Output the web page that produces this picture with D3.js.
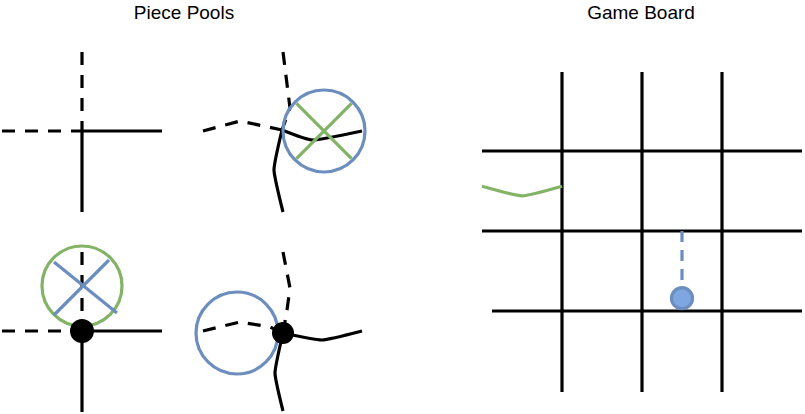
<!DOCTYPE html>
<html>
<head>
<meta charset="utf-8">
<script src="https://cdn.jsdelivr.net/npm/d3@7"></script>
<style>
  body { margin: 0; background: #fff; }
  text { font-family: "Liberation Sans", Arial, Helvetica, sans-serif; }
</style>
</head>
<body>
<svg id="chart" width="805" height="414"></svg>
<script>
// panel titles
var titles = [
  {text: "Piece Pools", x: 184},
  {text: "Game Board", x: 641}
];

// pieces in the pool: centre, arms (relative points), rings, crosses, dot
var pieces = [
  { cx: 82, cy: 131,
    dashed: [[[0,0],[0,-79]], [[0,0],[-80,0]]],
    solid:  [[[0,0],[80,0]], [[0,0],[0,81]]],
    rings: [], crosses: [], dot: 0 },
  { cx: 282, cy: 130,
    dashed: [[[0,0],[8,-22],[1,-78]], [[0,0],[-42,-9],[-79,1]]],
    solid:  [[[0,0],[31,10],[80,1]], [[0,0],[-8,40],[1,82]]],
    rings:   [{x: 42, y: 1, r: 41, c: "blue"}],
    crosses: [{x: 42, y: 1, r: 39, c: "green"}],
    dot: 0 },
  { cx: 82, cy: 331,
    dashed: [[[0,0],[0,-79]], [[0,0],[-80,0]]],
    solid:  [[[0,0],[80,0]], [[0,0],[0,81]]],
    rings:   [{x: 0, y: -45, r: 40, c: "green"}],
    crosses: [],
    lines:   [[[-28,-69],[35,-18]], [[-28,-16],[27,-71]]],
    dot: 12 },
  { cx: 283, cy: 333,
    dashed: [[[0,0],[4,-23],[7,-45],[0,-81]], [[0,0],[-13,-6],[-43,-11],[-80,-2]]],
    solid:  [[[0,0],[39,7],[79,-2]], [[0,0],[-8,40],[0,78]]],
    rings:   [{x: -46, y: 0, r: 41, c: "blue"}],
    crosses: [],
    dot: 11 }
];

// game board grid (in cell units)
var boardCols = [0, 1, 2];
var boardRows = [0, 1, 2];
var rowStart  = [-1, -1, -0.875];
var greenEdge = [[-1, 0.44], [-0.5, 0.56], [0, 0.44]];
var bluePath  = [[1.5, 1], [1.5, 1.84]];

var colors = { blue: "#6c8ebf", green: "#82b366", fill: "#7ea6e0", ink: "#000" };
var sw = 3.2;
var bend = d3.curveCardinal.tension(0.55);

var svg = d3.select("#chart");

svg.selectAll("text.title").data(titles).enter()
  .append("text")
    .attr("class", "title")
    .attr("x", function(d) { return d.x; })
    .attr("y", 19)
    .attr("text-anchor", "middle")
    .style("font-size", "19px")
    .text(function(d) { return d.text; });

// pool pieces
pieces.forEach(function(p) {
  var x = d3.scaleLinear().domain([0, 1]).range([p.cx, p.cx + 1]);
  var y = d3.scaleLinear().domain([0, 1]).range([p.cy, p.cy + 1]);
  var pl = d3.line().x(function(d) { return x(d[0]); }).y(function(d) { return y(d[1]); });
  var pc = d3.line().x(function(d) { return x(d[0]); }).y(function(d) { return y(d[1]); }).curve(bend);
  var g = svg.append("g")
    .attr("stroke-linejoin", "round");

  // dashes start from the outer end of an arm
  g.selectAll("path.dash").data(p.dashed).enter().append("path")
    .attr("d", function(d) { return pl(d.slice().reverse()); })
    .attr("fill", "none").attr("stroke", colors.ink)
    .attr("stroke-width", sw).attr("stroke-dasharray", "13,10");
  g.selectAll("path.solid").data(p.solid).enter().append("path")
    .attr("d", pc).attr("fill", "none").attr("stroke", colors.ink)
    .attr("stroke-width", sw);

  g.selectAll("circle.ring").data(p.rings).enter().append("circle")
    .attr("cx", function(d) { return x(d.x); })
    .attr("cy", function(d) { return y(d.y); })
    .attr("r", function(d) { return d.r; })
    .attr("fill", "none").attr("stroke", function(d) { return colors[d.c]; })
    .attr("stroke-width", sw);

  p.crosses.forEach(function(c) {
    var k = c.r * Math.SQRT1_2;
    var segs = [[[c.x - k, c.y - k], [c.x + k, c.y + k]], [[c.x - k, c.y + k], [c.x + k, c.y - k]]];
    g.selectAll(null).data(segs).enter().append("path")
      .attr("d", pl).attr("fill", "none").attr("stroke", colors[c.c])
      .attr("stroke-width", sw);
  });

  if (p.lines) {
    g.selectAll(null).data(p.lines).enter().append("path")
      .attr("d", pl).attr("fill", "none").attr("stroke", colors.blue)
      .attr("stroke-width", sw);
  }

  if (p.dot) {
    g.append("circle").attr("cx", x(0)).attr("cy", y(0)).attr("r", p.dot)
      .attr("fill", colors.ink);
  }
});

// game board
var bx = d3.scaleLinear().domain([0, 1]).range([562, 642]);
var by = d3.scaleLinear().domain([0, 1]).range([151, 231]);
var board = svg.append("g").attr("stroke-linejoin", "round");

board.selectAll("line.col").data(boardCols).enter().append("line")
  .attr("x1", function(d) { return bx(d); }).attr("x2", function(d) { return bx(d); })
  .attr("y1", by(-1) + 1).attr("y2", by(3) + 1)
  .attr("stroke", colors.ink).attr("stroke-width", sw);

board.selectAll("line.row").data(boardRows).enter().append("line")
  .attr("x1", function(d, i) { return bx(rowStart[i]); }).attr("x2", bx(3))
  .attr("y1", function(d) { return by(d); }).attr("y2", function(d) { return by(d); })
  .attr("stroke", colors.ink).attr("stroke-width", sw);

var bl = d3.line().x(function(d) { return bx(d[0]); }).y(function(d) { return by(d[1]); });

board.append("path").datum(greenEdge)
  .attr("d", bl.curve(bend))
  .attr("fill", "none").attr("stroke", colors.green).attr("stroke-width", sw);

board.append("path").datum(bluePath)
  .attr("d", bl.curve(d3.curveLinear))
  .attr("fill", "none").attr("stroke", colors.blue).attr("stroke-width", sw)
  .attr("stroke-dasharray", "11,8");

board.append("circle")
  .attr("cx", bx(bluePath[1][0])).attr("cy", by(bluePath[1][1]))
  .attr("r", 10.5)
  .attr("fill", colors.fill).attr("stroke", colors.blue).attr("stroke-width", sw);
</script>
</body>
</html>
